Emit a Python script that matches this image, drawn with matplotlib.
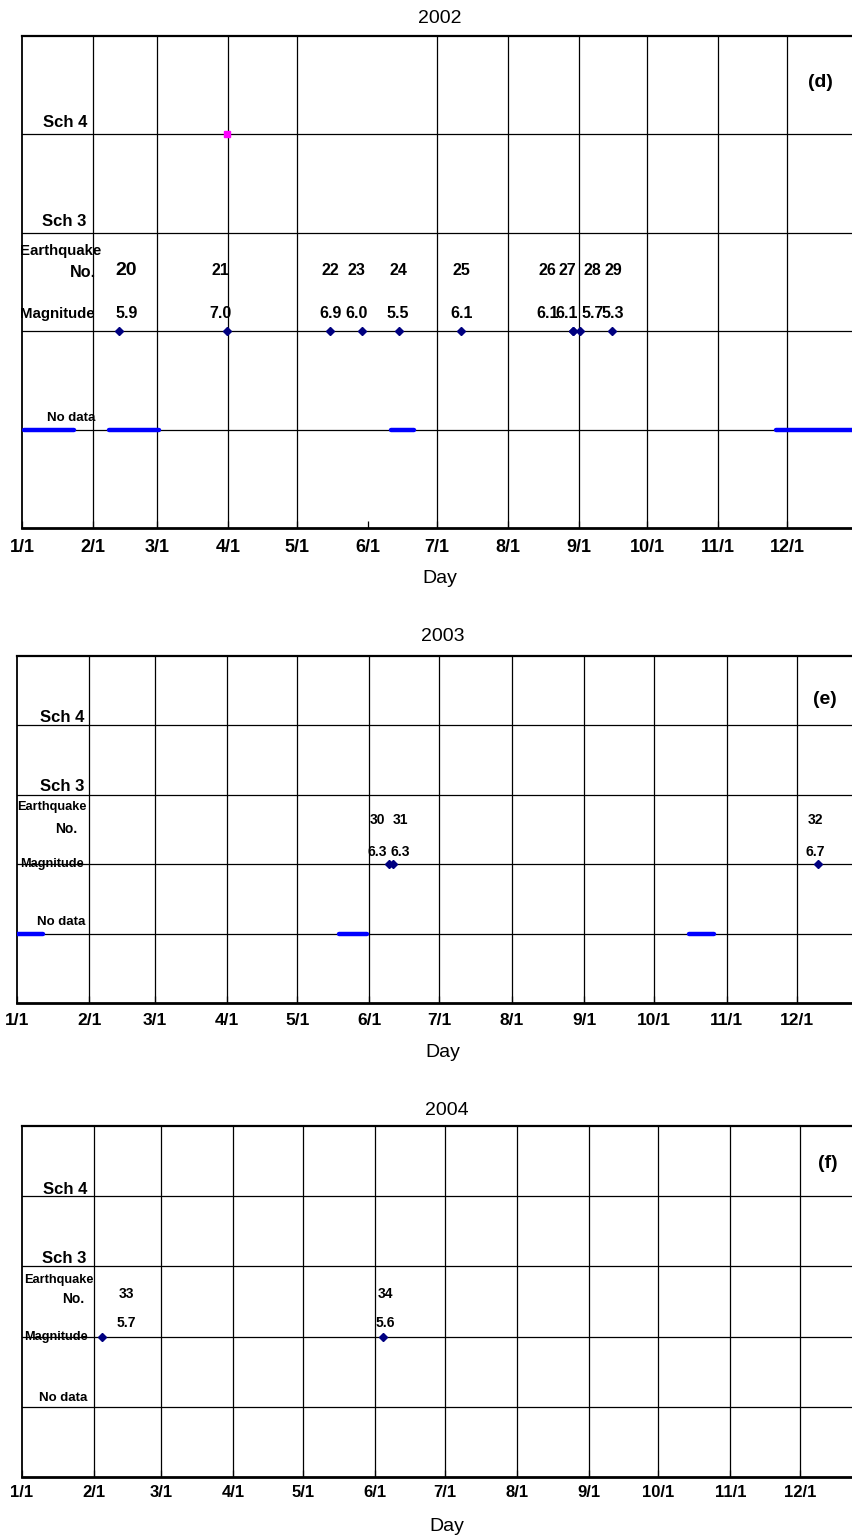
import matplotlib
matplotlib.use('Agg')
import matplotlib.pyplot as plt
from matplotlib import font_manager

# ---- data ----
month_labels = ['1/1', '2/1', '3/1', '4/1', '5/1', '6/1', '7/1', '8/1', '9/1', '10/1', '11/1', '12/1']
month_start = [0, 31, 59, 90, 120, 151, 181, 212, 243, 273, 304, 334]
month_start_leap = [0, 31, 60, 91, 121, 152, 182, 213, 244, 274, 305, 335]

# 2002
eq_no_2002 = [20, 21, 22, 23, 24, 25, 26, 27, 28, 29]
eq_day_2002 = [42.4, 89.5, 134.5, 148.5, 164.6, 191.7, 240.6, 240.6, 243.7, 257.6]
eq_mag_2002 = [5.9, 7.0, 6.9, 6.0, 5.5, 6.1, 6.1, 6.1, 5.7, 5.3]
eq_label_day_2002 = [45.5, 86.5, 134.8, 146.0, 164.2, 192.0, 229.3, 237.9, 249.0, 258.0]
sch4_day_2002 = [89.5]
nodata_start_2002 = [0.9, 38.0, 161.0, 329.0]
nodata_end_2002 = [22.7, 60.0, 171.0, 365.0]

# 2003
eq_no_2003 = [30, 31, 32]
eq_day_2003 = [159.5, 161.0, 343.0]
eq_mag_2003 = [6.3, 6.3, 6.7]
eq_label_day_2003 = [154.3, 164.3, 342.0]
sch4_day_2003 = []
nodata_start_2003 = [0.0, 138.0, 288.0]
nodata_end_2003 = [11.3, 150.0, 298.5]

# 2004
eq_no_2004 = [33, 34]
eq_day_2004 = [34.5, 155.5]
eq_mag_2004 = [5.7, 5.6]
eq_label_day_2004 = [45.0, 156.3]
sch4_day_2004 = []
nodata_start_2004 = []
nodata_end_2004 = []

installed = {f.name for f in font_manager.fontManager.ttflist}
narrow = 'Liberation Sans Narrow' if 'Liberation Sans Narrow' in installed else 'Liberation Sans'
plt.rcParams['font.family'] = ['Liberation Sans', 'DejaVu Sans']


def draw_year(ax, year, ticks, year_len, eq_no, eq_day, eq_mag, label_day,
              sch4_day, nd_start, nd_end, layout, panel_tag):
    ax.set_xlim(0, year_len)
    ax.set_ylim(0, 5)

    for i, d in enumerate(ticks):
        if i == 0 or d in layout.get('skip_grid', []):
            continue
        ax.axvline(d, color='black', lw=0.9, zorder=1)
    for y in [1, 2, 3, 4]:
        ax.axhline(y, color='black', lw=0.9, zorder=1)

    ax.set_xticks(ticks)
    ax.set_xticklabels(month_labels, family=narrow, fontweight='bold', fontsize=layout['tick_size'])
    ax.tick_params(axis='x', direction='in', length=5, width=0.9, pad=layout['tick_pad'])
    ax.set_yticks([])
    ax.spines['right'].set_visible(False)
    ax.spines['top'].set_linewidth(1.6)
    ax.spines['bottom'].set_linewidth(2.0)
    ax.spines['left'].set_linewidth(1.3)

    # no data stretches
    for a, b in zip(nd_start, nd_end):
        ax.plot([a, b], [1, 1], color='#0000FF', lw=3.2, solid_capstyle='round', zorder=3)

    # earthquakes
    ax.plot(eq_day, [2] * len(eq_day), 'D', color='#000080', ms=3.6, ls='none', zorder=4)
    if sch4_day:
        ax.plot(sch4_day, [4] * len(sch4_day), 's', color='#FF00FF', ms=4, ls='none', zorder=4)

    for n, m, d in zip(eq_no, eq_mag, label_day):
        size = layout['num_size']
        if n == 20:
            size = 14
        ax.text(d, layout['no_y'], str(n), ha='center', va='center', fontweight='bold', fontsize=size)
        ax.text(d, layout['mag_y'], '%.1f' % m, ha='center', va='center', fontweight='bold',
                fontsize=layout['num_size'])

    # row captions
    x, y = layout['sch4']
    ax.text(x, y, 'Sch 4', ha='right', va='center', fontweight='bold', fontsize=12)
    x, y = layout['sch3']
    ax.text(x, y, 'Sch 3', ha='right', va='center', fontweight='bold', fontsize=12)
    x, y = layout['earthquake']
    ax.text(x, y, 'Earthquake', ha='left', va='center', fontweight='bold', fontsize=layout['cap_size'])
    x, y = layout['no']
    ax.text(x, y, 'No.', ha='right', va='center', fontweight='bold', fontsize=layout['cap_size'] + 0.8)
    x, y = layout['magnitude']
    ax.text(x, y, 'Magnitude', ha='left', va='center', fontweight='bold', fontsize=layout['cap_size'])
    x, y = layout['nodata']
    ax.text(x, y, 'No data', ha='center', va='center', fontweight='bold', fontsize=9.5)
    x, y = layout['tag']
    ax.text(x, y, panel_tag, ha='center', va='center', fontweight='bold', fontsize=14)

    ax.set_title(str(year), fontsize=14, pad=layout['title_pad'])
    ax.set_xlabel('Day', fontsize=14, labelpad=layout['label_pad'])


fig = plt.figure(figsize=(8.53, 15.38), dpi=100)

ax1 = fig.add_axes([22 / 853, 1 - 528 / 1538, 836 / 853, 492 / 1538])
ax2 = fig.add_axes([17 / 853, 1 - 1003 / 1538, 852 / 853, 347 / 1538])
ax3 = fig.add_axes([22 / 853, 1 - 1477 / 1538, 850 / 853, 351 / 1538])

layout_2002 = {'skip_grid': [151], 'tick_size': 13, 'tick_pad': 8, 'num_size': 11.5,
               'cap_size': 10.8, 'no_y': 2.62, 'mag_y': 2.18,
               'sch4': (28.4, 4.12), 'sch3': (28.0, 3.11), 'earthquake': (-0.9, 2.82),
               'no': (32.3, 2.6), 'magnitude': (-0.9, 2.17), 'nodata': (21.4, 1.12),
               'tag': (348.5, 4.53), 'title_pad': 9.5, 'label_pad': 10}
layout_2003 = {'tick_size': 12.5, 'tick_pad': 7, 'num_size': 10,
               'cap_size': 9.2, 'no_y': 2.64, 'mag_y': 2.18,
               'sch4': (28.7, 4.11), 'sch3': (28.7, 3.12), 'earthquake': (0.0, 2.83),
               'no': (26.0, 2.51), 'magnitude': (1.3, 2.0), 'nodata': (18.8, 1.17),
               'tag': (346.0, 4.38), 'title_pad': 11, 'label_pad': 12}
layout_2004 = {'tick_size': 12, 'tick_pad': 6, 'num_size': 10,
               'cap_size': 9.2, 'no_y': 2.61, 'mag_y': 2.19,
               'sch4': (28.0, 4.1), 'sch3': (27.6, 3.11), 'earthquake': (0.9, 2.8),
               'no': (26.7, 2.53), 'magnitude': (0.9, 2.0), 'nodata': (17.7, 1.13),
               'tag': (347.0, 4.47), 'title_pad': 8, 'label_pad': 13}

draw_year(ax1, 2002, month_start, 365, eq_no_2002, eq_day_2002, eq_mag_2002, eq_label_day_2002,
          sch4_day_2002, nodata_start_2002, nodata_end_2002, layout_2002, '(d)')
draw_year(ax2, 2003, month_start, 365, eq_no_2003, eq_day_2003, eq_mag_2003, eq_label_day_2003,
          sch4_day_2003, nodata_start_2003, nodata_end_2003, layout_2003, '(e)')
draw_year(ax3, 2004, month_start_leap, 366, eq_no_2004, eq_day_2004, eq_mag_2004, eq_label_day_2004,
          sch4_day_2004, nodata_start_2004, nodata_end_2004, layout_2004, '(f)')

fig.savefig('out.png', dpi=100)
